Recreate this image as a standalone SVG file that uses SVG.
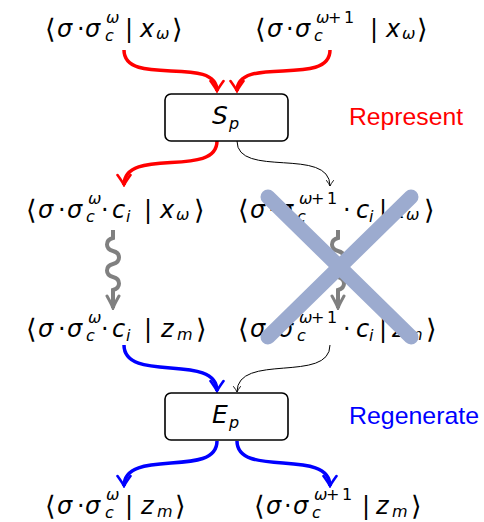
<svg xmlns="http://www.w3.org/2000/svg" width="484" height="522" viewBox="0 0 484 522">
<style>
.m{font-family:"DejaVu Sans",sans-serif;font-size:24px;fill:#000}
.i{font-style:italic}
.s{font-size:16px}
.b{font-size:27px}
.lbl{font-family:"Liberation Sans",Arial,sans-serif;font-size:24px}
.box{fill:#fff;stroke:#000;stroke-width:1.6}
.red{fill:none;stroke:#ff0000;stroke-width:3.5}
.blue{fill:none;stroke:#0000ff;stroke-width:3.5}
.thin{fill:none;stroke:#000;stroke-width:1}
.wave{fill:none;stroke:#808080;stroke-width:4}
.cross{stroke:#9cabcf;stroke-width:15;stroke-linecap:round}
</style>
<defs>
<marker id="aR" viewBox="-12 -8 14 16" refX="0" refY="0" markerWidth="14" markerHeight="16" orient="auto" markerUnits="userSpaceOnUse"><path d="M-10,-6.5 Q-3,-1.5 0,0 Q-3,1.5 -10,6.5" fill="none" stroke="#ff0000" stroke-width="2.6" stroke-linecap="round"/></marker>
<marker id="aB" viewBox="-12 -8 14 16" refX="0" refY="0" markerWidth="14" markerHeight="16" orient="auto" markerUnits="userSpaceOnUse"><path d="M-10,-6.5 Q-3,-1.5 0,0 Q-3,1.5 -10,6.5" fill="none" stroke="#0000ff" stroke-width="2.6" stroke-linecap="round"/></marker>
<marker id="aK" viewBox="-7 -5 8 10" refX="0" refY="0" markerWidth="8" markerHeight="10" orient="auto" markerUnits="userSpaceOnUse"><path d="M-5.5,-3.5 Q-2,-0.8 0,0 Q-2,0.8 -5.5,3.5" fill="none" stroke="#000" stroke-width="0.9" stroke-linecap="round"/></marker>
<marker id="aG" viewBox="-14 -8 16 16" refX="0" refY="0" markerWidth="16" markerHeight="16" orient="auto" markerUnits="userSpaceOnUse"><path d="M-12,-6 Q-4,-1.5 0,0 Q-4,1.5 -12,6" fill="none" stroke="#808080" stroke-width="3" stroke-linecap="round"/></marker>
</defs>

<g id="connectors">
<path class="red" d="M124,50 C124,88 217,54 217,91" marker-end="url(#aR)"/>
<path class="red" d="M330,50 C330,88 237,54 237,91" marker-end="url(#aR)"/>
<path class="red" d="M217,141 C217,179 124,146 124,185" marker-end="url(#aR)"/>
<path class="thin" d="M237,141 C237,179 330,146 330,186" marker-end="url(#aK)"/>
<path class="wave" d="M113,230 V238 C105,240 105,249 113,251 C121,253 121,262 113,264 C105,266 105,275 113,277 C121,279 121,288 113,290 V308" marker-end="url(#aG)"/>
<path class="wave" d="M338,230 V238 C330,240 330,249 338,251 C346,253 346,262 338,264 C330,266 330,275 338,277 C346,279 346,288 338,290 V308" marker-end="url(#aG)"/>
<path class="blue" d="M124,345 C124,384 217,352 217,391" marker-end="url(#aB)"/>
<path class="thin" d="M330,345 C330,384 237,352 237,392" marker-end="url(#aK)"/>
<path class="blue" d="M217,441 C217,479 124,447 124,486" marker-end="url(#aB)"/>
<path class="blue" d="M237,441 C237,479 330,447 330,486" marker-end="url(#aB)"/>
</g>

<g id="top-left">
<text class="m"><tspan class="b" x="45" y="38">⟨</tspan><tspan class="i" x="57" y="37">σ</tspan><tspan x="77" y="37">·</tspan><tspan class="i" x="85" y="37">σ</tspan><tspan class="s i" x="106" y="23">ω</tspan><tspan class="s i" x="105" y="41">c</tspan><tspan x="125" y="37">|</tspan><tspan class="i" x="140" y="37">x</tspan><tspan class="s i" x="156" y="39">ω</tspan><tspan class="b" x="172" y="38">⟩</tspan></text>
</g>
<g id="top-right">
<text class="m"><tspan class="b" x="255" y="38">⟨</tspan><tspan class="i" x="267" y="37">σ</tspan><tspan x="286" y="37">·</tspan><tspan class="i" x="295" y="37">σ</tspan><tspan class="s i" x="316" y="23">ω</tspan><tspan class="s" x="328" y="23">+</tspan><tspan class="s" x="344" y="23">1</tspan><tspan class="s i" x="314" y="41">c</tspan><tspan x="370" y="37">|</tspan><tspan class="i" x="386" y="37">x</tspan><tspan class="s i" x="402" y="39">ω</tspan><tspan class="b" x="417" y="38">⟩</tspan></text>
</g>

<g id="Sp">
<rect class="box" x="165" y="94" width="123" height="47" rx="6"/>
<text class="m"><tspan class="i" x="212" y="124" font-size="25">S</tspan><tspan class="s i" x="229" y="129">p</tspan></text>
</g>
<g id="represent"><text class="lbl" x="349" y="125" fill="#ff0000" textLength="114" lengthAdjust="spacingAndGlyphs">Represent</text></g>

<g id="mid-left-1">
<text class="m"><tspan class="b" x="26" y="219">⟨</tspan><tspan class="i" x="38" y="218">σ</tspan><tspan x="58" y="218">·</tspan><tspan class="i" x="67" y="218">σ</tspan><tspan class="s i" x="88" y="204">ω</tspan><tspan class="s i" x="86" y="222">c</tspan><tspan x="101" y="218">·</tspan><tspan class="i" x="112" y="218">c</tspan><tspan class="s i" x="126" y="222">i</tspan><tspan x="144" y="218">|</tspan><tspan class="i" x="160" y="218">x</tspan><tspan class="s i" x="176" y="220">ω</tspan><tspan class="b" x="194" y="219">⟩</tspan></text>
</g>
<g id="mid-right-1">
<text class="m"><tspan class="b" x="238" y="219">⟨</tspan><tspan class="i" x="250" y="218">σ</tspan><tspan x="268" y="218">·</tspan><tspan class="i" x="278" y="218">σ</tspan><tspan class="s i" x="299" y="204">ω</tspan><tspan class="s" x="311" y="204">+</tspan><tspan class="s" x="327" y="204">1</tspan><tspan class="s i" x="297" y="222">c</tspan><tspan x="343" y="218">·</tspan><tspan class="i" x="356" y="218">c</tspan><tspan class="s i" x="369" y="222">i</tspan><tspan x="379" y="218">|</tspan><tspan class="i" x="391" y="218">x</tspan><tspan class="s i" x="406" y="220">ω</tspan><tspan class="b" x="424" y="219">⟩</tspan></text>
</g>
<g id="mid-left-2">
<text class="m"><tspan class="b" x="26" y="338">⟨</tspan><tspan class="i" x="38" y="337">σ</tspan><tspan x="58" y="337">·</tspan><tspan class="i" x="67" y="337">σ</tspan><tspan class="s i" x="88" y="323">ω</tspan><tspan class="s i" x="86" y="341">c</tspan><tspan x="101" y="337">·</tspan><tspan class="i" x="112" y="337">c</tspan><tspan class="s i" x="126" y="341">i</tspan><tspan x="144" y="337">|</tspan><tspan class="i" x="161" y="337">z</tspan><tspan class="s i" x="177" y="340">m</tspan><tspan class="b" x="196" y="338">⟩</tspan></text>
</g>
<g id="mid-right-2">
<text class="m"><tspan class="b" x="238" y="338">⟨</tspan><tspan class="i" x="250" y="337">σ</tspan><tspan x="268" y="337">·</tspan><tspan class="i" x="278" y="337">σ</tspan><tspan class="s i" x="299" y="323">ω</tspan><tspan class="s" x="311" y="323">+</tspan><tspan class="s" x="327" y="323">1</tspan><tspan class="s i" x="297" y="341">c</tspan><tspan x="343" y="337">·</tspan><tspan class="i" x="356" y="337">c</tspan><tspan class="s i" x="369" y="341">i</tspan><tspan x="379" y="337">|</tspan><tspan class="i" x="392" y="337">z</tspan><tspan class="s i" x="407" y="340">m</tspan><tspan class="b" x="426" y="338">⟩</tspan></text>
</g>

<g id="Ep">
<rect class="box" x="165" y="393" width="123" height="47" rx="6"/>
<text class="m"><tspan class="i" x="212" y="423" font-size="25">E</tspan><tspan class="s i" x="229" y="428">p</tspan></text>
</g>
<g id="regenerate"><text class="lbl" x="349" y="424" fill="#0000ff" textLength="130" lengthAdjust="spacingAndGlyphs">Regenerate</text></g>

<g id="bottom-left">
<text class="m"><tspan class="b" x="45" y="515">⟨</tspan><tspan class="i" x="57" y="514">σ</tspan><tspan x="77" y="514">·</tspan><tspan class="i" x="85" y="514">σ</tspan><tspan class="s i" x="106" y="500">ω</tspan><tspan class="s i" x="105" y="518">c</tspan><tspan x="125" y="514">|</tspan><tspan class="i" x="141" y="514">z</tspan><tspan class="s i" x="157" y="517">m</tspan><tspan class="b" x="175" y="515">⟩</tspan></text>
</g>
<g id="bottom-right">
<text class="m"><tspan class="b" x="254" y="515">⟨</tspan><tspan class="i" x="266" y="514">σ</tspan><tspan x="284" y="514">·</tspan><tspan class="i" x="293" y="514">σ</tspan><tspan class="s i" x="314" y="500">ω</tspan><tspan class="s" x="326" y="500">+</tspan><tspan class="s" x="342" y="500">1</tspan><tspan class="s i" x="312" y="518">c</tspan><tspan x="362" y="514">|</tspan><tspan class="i" x="376" y="514">z</tspan><tspan class="s i" x="392" y="517">m</tspan><tspan class="b" x="411" y="515">⟩</tspan></text>
</g>

<g id="cross">
<line class="cross" x1="268" y1="197" x2="411" y2="337"/>
<line class="cross" x1="411" y1="197" x2="268" y2="337"/>
</g>
</svg>
